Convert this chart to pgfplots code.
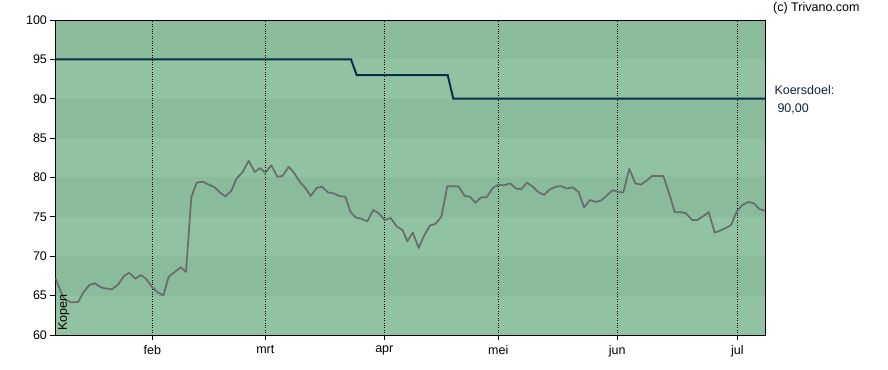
\documentclass[border=0pt]{standalone}
\usepackage{fontspec}
\setmainfont{Liberation Sans}
\usepackage{pgfplots}
\pgfplotsset{compat=1.18}
\definecolor{bandA}{RGB}{138,187,155}
\definecolor{bandB}{RGB}{145,195,162}
\definecolor{navy}{RGB}{12,44,76}
\definecolor{price}{RGB}{105,107,108}
\definecolor{txtnavy}{RGB}{20,35,60}
\begin{document}
\fontsize{12.5bp}{14bp}\selectfont
\begin{tikzpicture}
\begin{axis}[
  at={(55.3bp,35bp)}, anchor=south west,
  scale only axis, width=709.7bp, height=315bp,
  xmin=55.3, xmax=765, ymin=60, ymax=100,
  set layers,
  axis line style={black, line width=0.9bp},
  tick align=outside, tick pos=left,
  major tick length=5bp,
  tick style={black, line width=0.8bp},
  xtick={152.3,265.3,384.3,498.3,617.3,737.3},
  xticklabels={feb,mrt,apr,mei,jun,jul},
  ytick={60,65,70,75,80,85,90,95,100},
  /pgf/number format/assume math mode=true,
  ticklabel style={font=\fontsize{12.5bp}{14bp}\selectfont, text=black},
  yticklabel style={xshift=1bp},
  xticklabel style={yshift=-1bp},
  xmajorgrids,
  x grid style={black, dotted, line width=0.8bp},
  clip=true,
]
\begin{pgfonlayer}{axis background}
\fill[bandB] (axis cs:55.3,60) rectangle (axis cs:765,65);
\fill[bandA] (axis cs:55.3,65) rectangle (axis cs:765,70);
\fill[bandB] (axis cs:55.3,70) rectangle (axis cs:765,75);
\fill[bandA] (axis cs:55.3,75) rectangle (axis cs:765,80);
\fill[bandB] (axis cs:55.3,80) rectangle (axis cs:765,85);
\fill[bandA] (axis cs:55.3,85) rectangle (axis cs:765,90);
\fill[bandB] (axis cs:55.3,90) rectangle (axis cs:765,95);
\fill[bandA] (axis cs:55.3,95) rectangle (axis cs:765,100);
\end{pgfonlayer}
\addplot[navy, line width=2bp, mark=none] coordinates {
(55.3,95)(351,95)(356.7,93)(447.7,93)(453.3,90)(765,90)};
\addplot[price, line width=1.7bp, mark=none, line join=round] coordinates {
(55.5,67.2)(62.7,64.9)(66,64.4)(71.7,64.15)(78.3,64.2)(83.3,65.4)(89.3,66.35)(95,66.56)
(100.7,66.05)(106,65.9)(112,65.8)(118,66.4)(124,67.5)(129.3,67.9)(135.3,67.15)(140.7,67.6)
(146,67.15)(152,66.1)(157.3,65.45)(163.3,65.0)(168.7,67.4)(174.7,68.0)(180.7,68.6)(186,68.0)
(191.3,77.5)(196.7,79.35)(202.7,79.47)(208.7,79.1)(214.7,78.75)(220,78.1)(225.3,77.6)(231.3,78.3)
(236.7,79.9)(242.7,80.7)(248.7,82.14)(254.7,80.7)(260,81.2)(265.3,80.6)(271.3,81.55)(277.3,80.1)
(282.7,80.2)(288.7,81.37)(294,80.6)(300,79.4)(305.3,78.67)(310.7,77.65)(316.7,78.67)(322,78.84)
(328,78.1)(333.3,78.0)(339.3,77.65)(345.3,77.56)(350.7,75.6)(356,74.9)(361.3,74.77)(367.3,74.43)
(373.3,75.87)(378.7,75.45)(384.7,74.6)(390.7,74.86)(396.7,73.8)(402.7,73.3)(407.3,71.9)(412.7,73.0)
(418.7,71.05)(424,72.6)(430,73.9)(435.3,74.1)(441.3,75.0)(447.3,78.9)(452.7,78.9)(458.7,78.84)
(464.7,77.65)(470,77.56)(475.3,76.8)(481.3,77.5)(486.7,77.5)(492.7,78.67)(498.7,79.1)(504,79.0)
(510,79.26)(516,78.6)(521.3,78.5)(526.7,79.35)(532.7,78.84)(538.7,78.1)(544,77.8)(550,78.5)
(556,78.84)(561.3,78.9)(566.7,78.6)(572.7,78.75)(578.7,78.16)(584,76.2)(590,77.14)(595.3,76.9)
(600.7,77.06)(606.7,77.7)(612.7,78.4)(618,78.16)(623.3,78.1)(629.3,81.1)(635.3,79.26)(640.7,79.1)
(646.7,79.6)(652,80.2)(658,80.2)(663.3,80.2)(669.3,77.9)(674.7,75.6)(680.7,75.6)(686,75.45)
(692,74.6)(697.3,74.6)(703.3,75.1)(708.7,75.6)(714.7,73.0)(720,73.25)(726,73.6)(731.3,74.0)
(736.7,75.7)(742.7,76.55)(748.7,76.9)(754,76.7)(759.3,76.0)(764.7,75.8)};
\node[rotate=90, anchor=west, inner sep=0pt, text=black] at (axis cs:63.8,60.5) {Kopen};
\end{axis}
\node[anchor=west, inner sep=0pt] at (773bp,361.7bp) {(c) Trivano.com};
\node[anchor=west, inner sep=0pt, text=txtnavy] at (774.3bp,280bp) {Koersdoel:};
\node[anchor=west, inner sep=0pt, text=txtnavy] at (777.3bp,261bp) {90,00};
\path (0,0) rectangle (888bp,370bp);
\end{tikzpicture}
\end{document}
